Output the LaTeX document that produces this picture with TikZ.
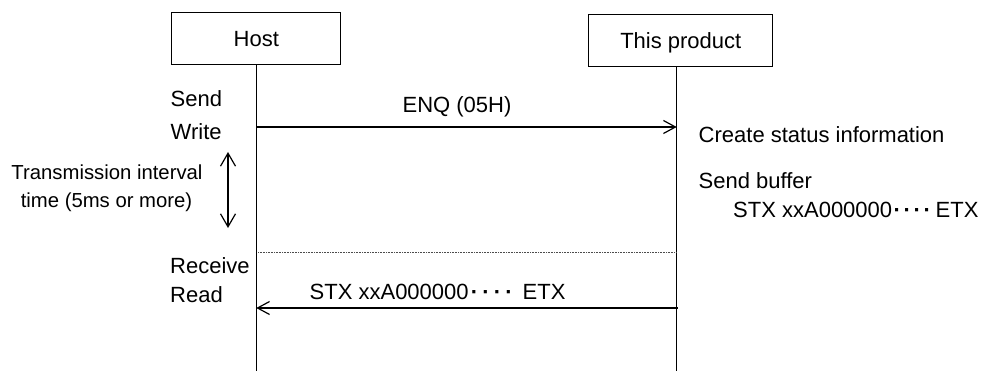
\documentclass[tikz,border=0pt]{standalone}
\usepackage{fontspec}
\setmainfont{Liberation Sans}
\usetikzlibrary{arrows.meta}
\newcommand\fourdots[1]{\makebox[#1]{\bfseries ·}\makebox[#1]{\bfseries ·}\makebox[#1]{\bfseries ·}\makebox[#1]{\bfseries ·}}
\begin{document}
\begin{tikzpicture}[x=1pt,y=-1pt,
  every node/.style={font=\fontsize{22}{26}\selectfont, inner sep=0pt},
  actor/.style={draw, line width=1pt, minimum height=52pt, text height=15.8pt, text depth=0pt},
  lifeline/.style={line width=1.1pt},
  msg/.style={line width=1.3pt, -{Straight Barb[length=12pt,width=13pt,line width=1.2pt]}},
  interval/.style={line width=1.3pt, {Straight Barb[length=13pt,width=15pt,line width=1.2pt]}-{Straight Barb[length=13pt,width=15pt,line width=1.2pt]}},
  lbl/.style={anchor=base west},
  clbl/.style={anchor=base, font=\fontsize{20.3}{24}\selectfont}]
\useasboundingbox (0,0) rectangle (981,371);
\fill[white] (0,0) rectangle (981,371);
% actors
\node[actor, minimum width=169pt] (host) at (256.3,39) {Host};
\node[actor, minimum width=184pt] (prod) at (680.8,40.5) {This product};
% lifeline ends
\coordinate (hostTop) at (256.3,65);
\coordinate (prodTop) at (676.7,66.5);
\coordinate (hostEnd) at (256.3,371);
\coordinate (prodEnd) at (676.7,371);
\draw[lifeline] (hostTop) -- (hostEnd);
\draw[lifeline] (prodTop) -- (prodEnd);
% message coordinates
\coordinate (enqS) at (256.3,127);
\coordinate (enqE) at (676.7,127);
\coordinate (stxS) at (677.5,308);
\coordinate (stxE) at (256.3,308);
\draw[msg] (enqS) -- (enqE);
\draw[msg] (stxS) -- (stxE);
% interval arrow
\coordinate (ivT) at (228,152);
\coordinate (ivB) at (228,228);
\draw[interval] (ivT) -- (ivB);
% dotted separator
\coordinate (sepL) at (258,252.7);
\coordinate (sepR) at (676,252.7);
\draw[densely dotted, line width=0.6pt, black!70] (sepL) -- (sepR);
% labels
\node[lbl] (send) at (170.5,107) {Send};
\node[lbl] (write) at (170.5,140) {Write};
\node[clbl] (trans1) at (107,180) {Transmission interval};
\node[clbl] (trans2) at (106.5,207.5) {time (5ms or more)};
\node[lbl] (recv) at (170,273) {Receive};
\node[lbl] (read) at (170,302) {Read};
\node[anchor=base] (enq) at (457,113) {ENQ (05H)};
\node[lbl] (stxlbl) at (309.5,299) {STX xxA000000\fourdots{11.5pt}\hspace{8pt}ETX};
\node[lbl] (create) at (698.5,143) {Create status information};
\node[lbl] (sbuf) at (698.5,189) {Send buffer};
\node[lbl] (sbufc) at (733,218) {STX xxA000000\fourdots{10pt}\hspace{3.5pt}ETX};
\end{tikzpicture}
\end{document}
